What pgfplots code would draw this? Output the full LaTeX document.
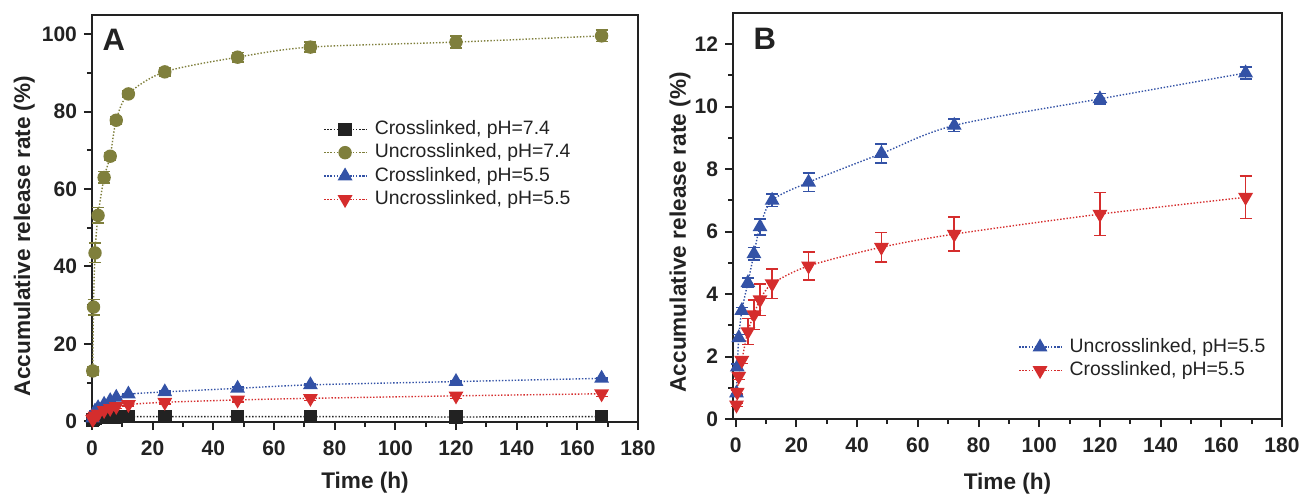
\documentclass[border=0pt]{standalone}
\usepackage{fontspec}
\setmainfont{Liberation Sans}
\usepackage{pgfplots}
\usepackage{pgfplotstable}
\pgfplotsset{compat=1.18}

\definecolor{cblack}{HTML}{222222}
\definecolor{colive}{HTML}{7F7F3C}
\definecolor{cblue}{HTML}{3352A6}
\definecolor{cred}{HTML}{D52D2D}

% time (h), release (%), error
\pgfplotstableread{
t y e
0.25 0.3 0.1
0.5 0.5 0.1
1 0.7 0.1
2 0.9 0.1
4 1.0 0.1
6 1.1 0.1
8 1.1 0.1
12 1.2 0.15
24 1.2 0.15
48 1.2 0.15
72 1.2 0.15
120 1.1 0.15
168 1.2 0.15
}\crossSeven
\pgfplotstableread{
t y e
0.25 13.0 1.0
0.5 29.5 2.0
1 43.5 2.5
2 53.2 2.0
4 63.0 1.5
6 68.5 1.0
8 77.8 1.0
12 84.6 0.8
24 90.3 1.0
48 94.1 1.2
72 96.7 1.3
120 98.0 1.5
168 99.6 1.5
}\uncrossSeven
\pgfplotstableread{
t y e
0.25 0.83 0.08
0.5 1.66 0.1
1 2.6 0.1
2 3.47 0.1
4 4.36 0.15
6 5.29 0.2
8 6.15 0.25
12 7.0 0.2
24 7.58 0.3
48 8.5 0.3
72 9.4 0.2
120 10.25 0.17
168 11.08 0.19
}\blueFive
\pgfplotstableread{
t y e
0.25 0.45 0.05
0.5 0.86 0.05
1 1.37 0.1
2 1.88 0.1
4 2.8 0.42
6 3.34 0.47
8 3.82 0.5
12 4.33 0.47
24 4.9 0.45
48 5.5 0.47
72 5.92 0.55
120 6.56 0.69
168 7.1 0.68
}\redFive

\pgfplotsset{
  relstyle/.style={
    scale only axis,
    clip=false,
    xmin=0, xmax=180,
    xtick={0,20,...,180},
    minor x tick num=1,
    xtick pos=bottom, ytick pos=left,
    tick align=outside,
    major tick length=4pt, minor tick length=2.5pt,
    every tick/.style={line width=1pt, cblack},
    axis line style={line width=1.3pt, cblack},
    /pgf/number format/assume math mode=true,
    tick label style={font=\bfseries\fontsize{10.5}{12}\selectfont, text=cblack},
    xticklabel style={yshift=-2pt},
    label style={font=\bfseries\fontsize{11.3}{13}\selectfont, text=cblack},
    xlabel={Time (h)},
    ylabel={Accumulative release rate (\%)},
    legend cell align=left,
    legend image code/.code={%
      \draw[mark repeat=2,mark phase=2] plot coordinates {(0pt,0pt) (10.5pt,0pt) (21pt,0pt)};},
  },
  ser/.style={#1, line width=0.7pt, dash pattern=on 0.7pt off 0.9pt, smooth,
    error bars/y dir=both, error bars/y explicit,
    error bars/error bar style={solid, line width=0.8pt, #1},
    error bars/error mark options={rotate=90, mark size=3pt, line width=0.8pt, #1, solid}},
  lgd/.style={draw=none, fill=none, font=\fontsize{9.7}{11.7}\selectfont,
    inner sep=0pt, text=cblack,
    nodes={inner sep=0pt, text height=8.5pt, text depth=3.2pt},
    /tikz/every odd column/.append style={column sep=4pt}},
}

\begin{document}
\begin{tikzpicture}
\useasboundingbox (0,0) rectangle (650pt,247pt);

\begin{axis}[relstyle,
  at={(46pt,36pt)}, anchor=south west,
  width=273pt, height=203.5pt,
  ymin=-0.2, ymax=105,
  ytick={0,20,...,100},
  minor y tick num=1,
  xlabel style={at={(axis description cs:0.5,-0.15)}, anchor=center},
  ylabel style={at={(axis description cs:-0.124,0.457)}, anchor=center},
  legend style={lgd, at={(axis description cs:0.423,0.749)}, anchor=north west},
]
\addplot[ser=cblack, mark=square*, mark size=3pt, mark options={solid}]
  table[x=t, y=y, y error=e] {\crossSeven};
\addlegendentry{Crosslinked, pH=7.4}
\addplot[ser=colive, mark=*, mark size=3pt, mark options={solid}]
  table[x=t, y=y, y error=e] {\uncrossSeven};
\addlegendentry{Uncrosslinked, pH=7.4}
\addplot[ser=cblue, mark=triangle*, mark size=3.6pt, mark options={solid}]
  table[x=t, y=y, y error=e] {\blueFive};
\addlegendentry{Crosslinked, pH=5.5}
\addplot[ser=cred, mark=triangle*, mark size=3.6pt, mark options={solid, rotate=180}]
  table[x=t, y=y, y error=e] {\redFive};
\addlegendentry{Uncrosslinked, pH=5.5}
\node[font=\bfseries\fontsize{15.5}{18}\selectfont, text=cblack] at (rel axis cs:0.04,0.94) {A};
\end{axis}

\begin{axis}[relstyle,
  at={(366.5pt,37.5pt)}, anchor=south west,
  width=274.5pt, height=203pt,
  xmin=-0.9,
  ymin=0, ymax=13,
  ytick={0,2,...,12},
  minor y tick num=1,
  xlabel style={at={(axis description cs:0.5,-0.158)}, anchor=center},
  ylabel style={at={(axis description cs:-0.0965,0.46)}, anchor=center},
  legend style={lgd, at={(axis description cs:0.519,0.207)}, anchor=north west},
]
\addplot[ser=cblue, mark=triangle*, mark size=3.6pt, mark options={solid}]
  table[x=t, y=y, y error=e] {\blueFive};
\addlegendentry{Uncrosslinked, pH=5.5}
\addplot[ser=cred, mark=triangle*, mark size=3.6pt, mark options={solid, rotate=180}]
  table[x=t, y=y, y error=e] {\redFive};
\addlegendentry{Crosslinked, pH=5.5}
\node[font=\bfseries\fontsize{15.5}{18}\selectfont, text=cblack] at (rel axis cs:0.058,0.936) {B};
\end{axis}
\end{tikzpicture}
\end{document}
